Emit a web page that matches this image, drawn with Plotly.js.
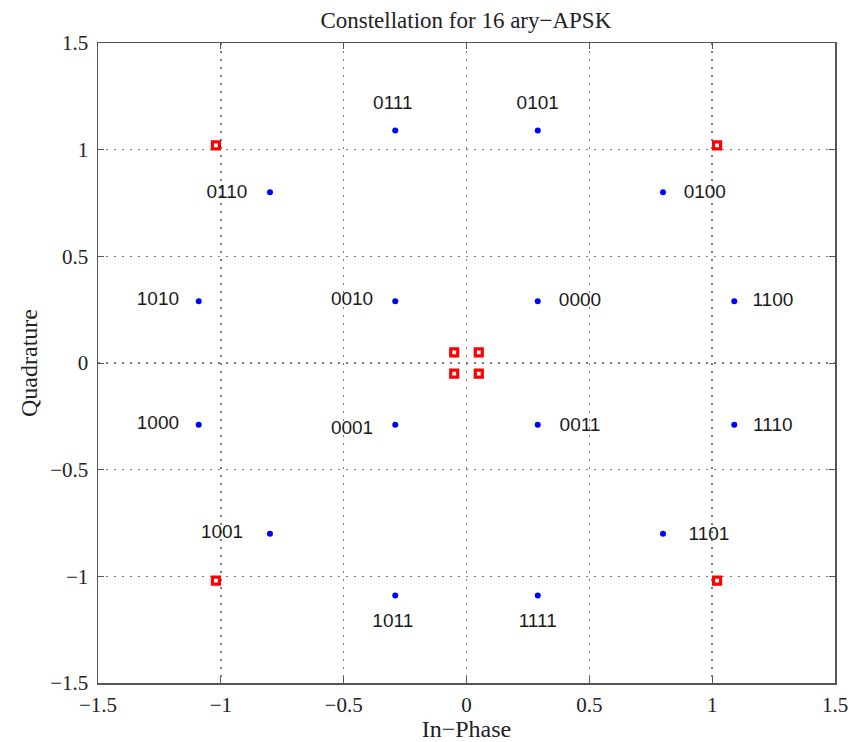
<!DOCTYPE html>
<html>
<head>
<meta charset="utf-8">
<script src="https://cdn.plot.ly/plotly-3.0.1.min.js"></script>
<style>html,body{margin:0;padding:0;background:#fff;}#chart{width:854px;height:742px;}</style>
</head>
<body>
<div id="chart"></div>
<script>
// Blue constellation points (16-APSK symbols)
const symbolI = [-0.29, 0.29, -0.80, 0.80, -1.09, -0.29, 0.29, 1.09, -1.09, -0.29, 0.29, 1.09, -0.80, 0.80, -0.29, 0.29];
const symbolQ = [1.09, 1.09, 0.80, 0.80, 0.29, 0.29, 0.29, 0.29, -0.29, -0.29, -0.29, -0.29, -0.80, -0.80, -1.09, -1.09];
const bitLabels = ["0111", "0101", "0110", "0100", "1010", "0010", "0000", "1100", "1000", "0001", "0011", "1110", "1001", "1101", "1011", "1111"];
// Label text locations
const labelI = [-0.30, 0.29, -0.975, 0.97, -1.256, -0.466, 0.462, 1.247, -1.256, -0.466, 0.462, 1.247, -0.995, 0.987, -0.30, 0.29];
const labelQ = [1.214, 1.214, 0.797, 0.797, 0.295, 0.295, 0.29, 0.29, -0.286, -0.31, -0.296, -0.296, -0.797, -0.807, -1.214, -1.214];
// Red square reference points
const refI = [-1.02, 1.02, -1.02, 1.02, -0.05, 0.05, -0.05, 0.05];
const refQ = [1.02, 1.02, -1.02, -1.02, 0.05, 0.05, -0.05, -0.05];
const tickVals = [-1.5, -1, -0.5, 0, 0.5, 1, 1.5];
const tickText = ["\u22121.5", "\u22121", "\u22120.5", "0", "0.5", "1", "1.5"];

const serif = "Liberation Serif, Times New Roman, serif";
const sans = "Liberation Sans, Arial, sans-serif";

const traces = [
  {x: refI, y: refQ, type: "scatter", mode: "markers",
   marker: {symbol: "square-open", size: 7, color: "#ff0000", line: {width: 3.2, color: "#ff0000"}},
   hoverinfo: "skip"},
  {x: symbolI, y: symbolQ, type: "scatter", mode: "markers",
   marker: {symbol: "circle", size: 6, color: "#0000ff"}, hoverinfo: "skip"},
  {x: labelI, y: labelQ, type: "scatter", mode: "text", text: bitLabels,
   textposition: "middle center", textfont: {family: sans, size: 19, color: "#1a1a1a"}, hoverinfo: "skip"}
];

const axisCommon = {
  range: [-1.5, 1.5], autorange: false,
  tickvals: tickVals, ticktext: tickText,
  showgrid: true, gridcolor: "#7a7a7a", griddash: "1.5px,6.5px", gridwidth: 1.5,
  zeroline: false, showline: true, linecolor: "#555", linewidth: 1.5, mirror: "ticks",
  ticks: "inside", ticklen: 6, tickcolor: "#555", tickwidth: 1,
  tickfont: {family: serif, size: 21, color: "#222"}
};

const layout = {
  width: 854, height: 742,
  margin: {l: 98, r: 19, t: 43, b: 59},
  paper_bgcolor: "#fff", plot_bgcolor: "#fff",
  showlegend: false,
  title: {text: "Constellation for 16 ary\u2212APSK", font: {family: serif, size: 23, color: "#222"},
          x: 0.5455, xanchor: "center", y: 0.973, yanchor: "middle"},
  xaxis: Object.assign({}, axisCommon, {ticklabelstandoff: 2, title: {text: "In\u2212Phase", font: {family: serif, size: 24, color: "#222"}, standoff: 2}}),
  yaxis: Object.assign({}, axisCommon, {ticklabelstandoff: 4, title: {text: "Quadrature", font: {family: serif, size: 24, color: "#222"}, standoff: 6}})
};

Plotly.newPlot("chart", traces, layout, {staticPlot: true, displayModeBar: false});
</script>
</body>
</html>
